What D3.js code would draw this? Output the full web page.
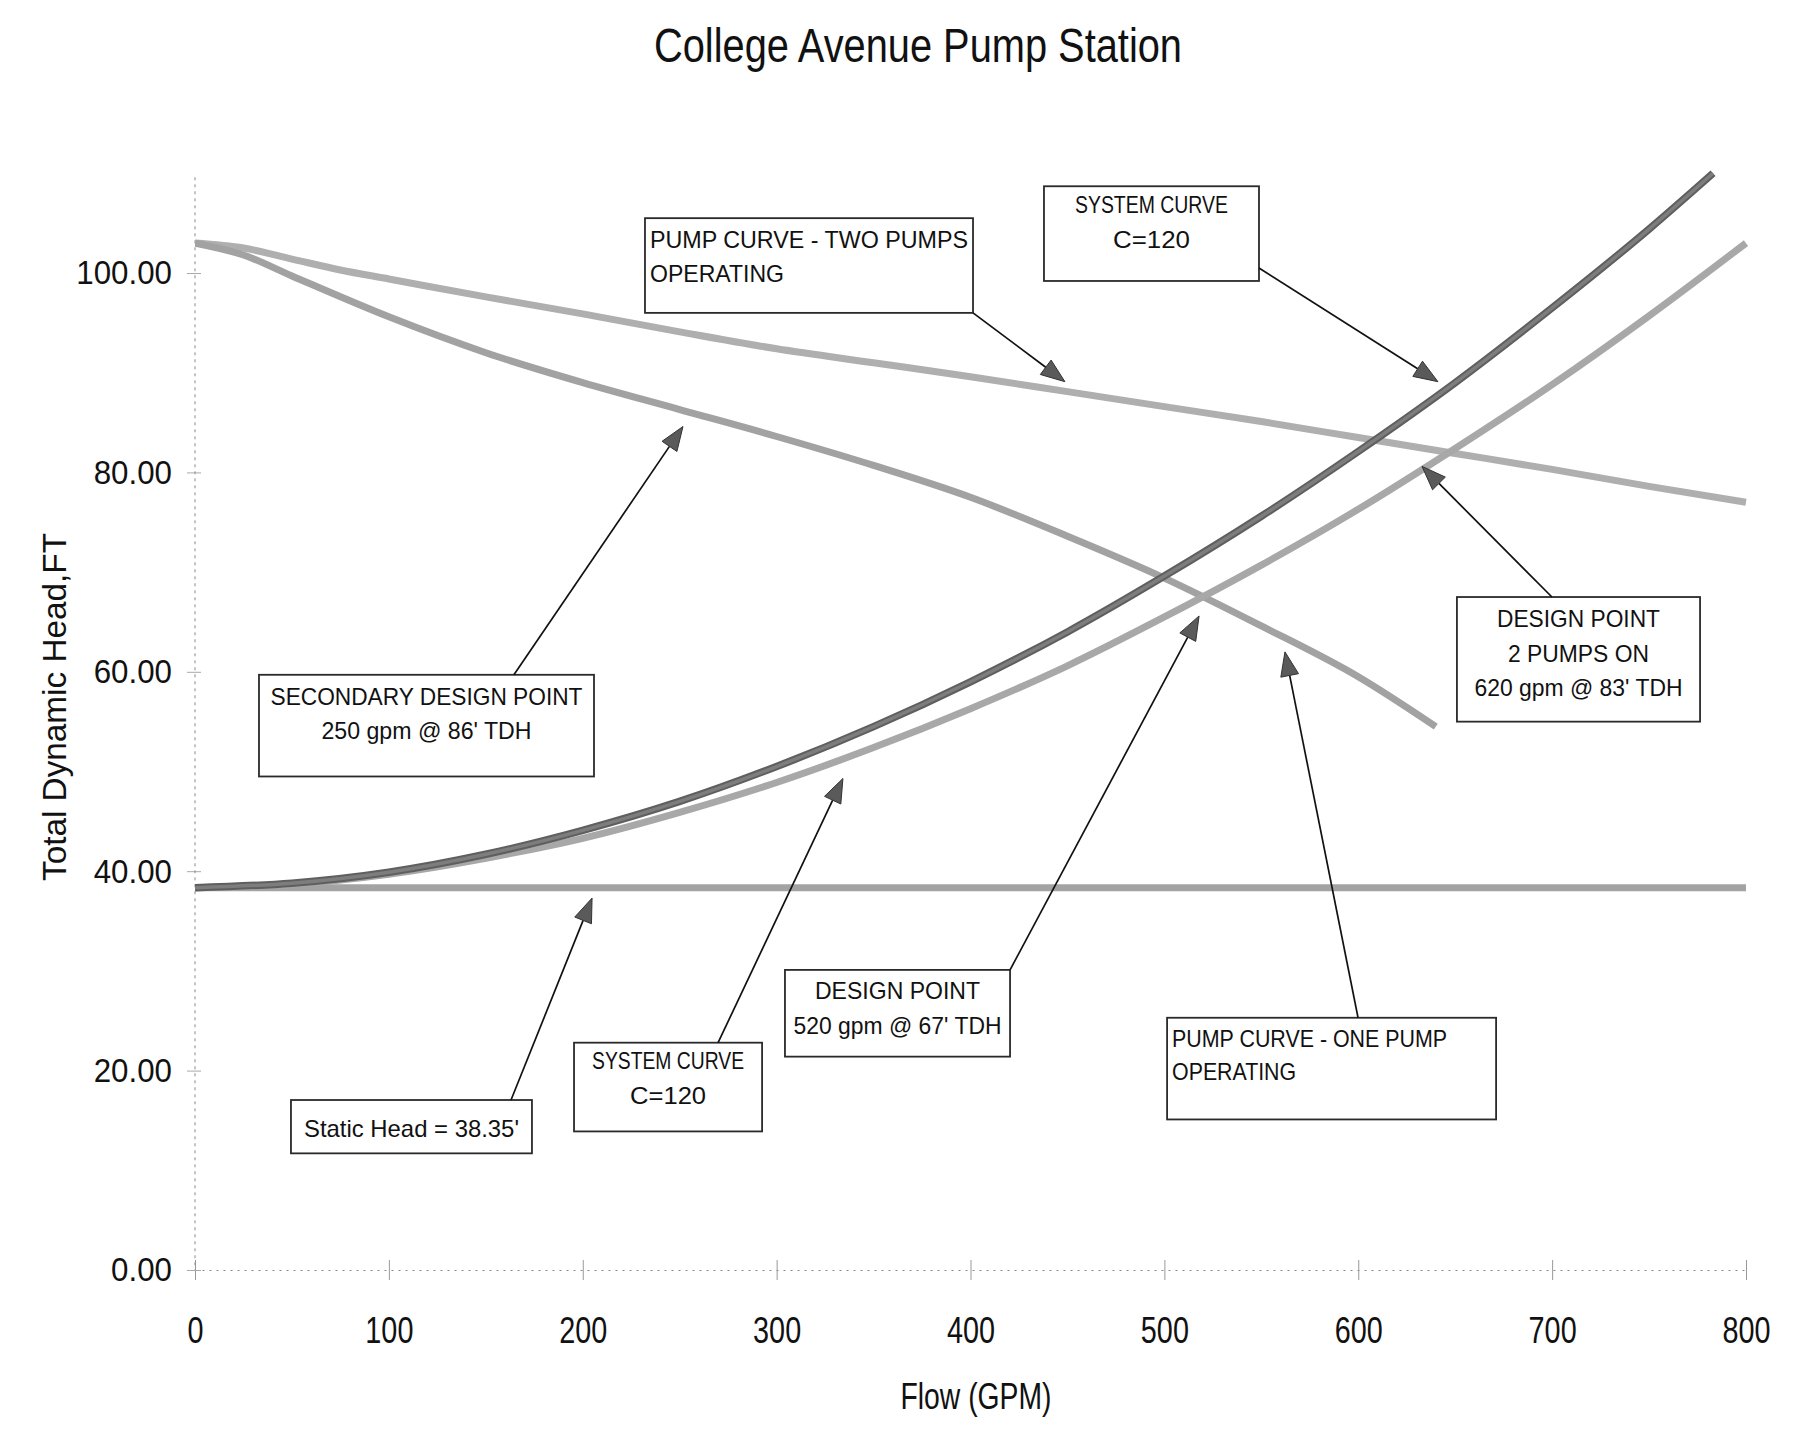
<!DOCTYPE html>
<html>
<head>
<meta charset="utf-8">
<script src="https://cdn.jsdelivr.net/npm/d3@7"></script>
<style>
  html, body { margin: 0; padding: 0; background: #fff; }
  svg { display: block; }
  text { font-family: "Liberation Sans", Arial, sans-serif; fill: #111; }
</style>
</head>
<body>
<svg id="chart" width="1799" height="1435"></svg>
<script>
// ---- Curve readings: flow (GPM) and total dynamic head (ft) ----
const twoPumpFlow = [0, 25, 50, 75, 100, 150, 200, 250, 300, 350, 400, 450, 500, 550, 600, 650, 700, 750, 800];
const twoPumpHead = [103, 102.5, 101.4, 100.3, 99.4, 97.6, 95.9, 94.1, 92.4, 91.0, 89.6, 88.1, 86.6, 85.1, 83.5, 81.9, 80.3, 78.6, 77.0];

const onePumpFlow = [0, 25, 50, 100, 150, 200, 250, 300, 350, 400, 450, 500, 550, 600, 640];
const onePumpHead = [103, 101.8, 99.7, 95.6, 92.0, 89.0, 86.3, 83.6, 80.7, 77.5, 73.6, 69.4, 64.6, 59.5, 54.5];

const systemUpperFlow = [0, 50, 100, 150, 200, 250, 300, 350, 400, 450, 500, 550, 600, 650, 700, 750, 783];
const systemUpperHead = [38.35, 38.8, 39.9, 41.7, 44.1, 47.0, 50.5, 54.5, 59.0, 64.0, 69.6, 75.6, 82.1, 89.0, 96.5, 104.4, 110.0];

const systemLowerFlow = [0, 50, 100, 150, 200, 250, 300, 350, 400, 450, 500, 550, 600, 650, 700, 750, 800];
const systemLowerHead = [38.35, 38.7, 39.7, 41.3, 43.3, 45.9, 48.9, 52.4, 56.3, 60.6, 65.5, 70.7, 76.3, 82.4, 88.8, 95.7, 103.0];

const staticFlow = [0, 800];
const staticHead = [38.35, 38.35];

const flowTicks = [0, 100, 200, 300, 400, 500, 600, 700, 800];
const headTicks = [0, 20, 40, 60, 80, 100];

// ---- Callout boxes (box corners and arrow ends given in flow/head units) ----
const callouts = [
  { lines: ["PUMP CURVE -  TWO PUMPS", "OPERATING"], widths: [318, 134], align: "start",
    box: [232.1, 401.3, 105.5, 96.0], base: [30, 64], from: [401.3, 96.0], tip: [448.7, 89.1] },
  { lines: ["SYSTEM CURVE", "C=120"], widths: [153, 77], align: "middle",
    box: [437.9, 548.8, 108.7, 99.2], base: [27, 62], from: [548.8, 100.5], tip: [641.1, 89.1] },
  { lines: ["DESIGN POINT", "2 PUMPS ON", "620 gpm @ 83' TDH"], widths: [163, 141, 208], align: "middle",
    box: [650.9, 776.3, 67.5, 55.0], base: [30, 65, 99], from: [699.9, 67.5], tip: [632.9, 80.6] },
  { lines: ["SECONDARY DESIGN POINT", "250 gpm @ 86' TDH"], widths: [312, 210], align: "middle",
    box: [33.0, 205.8, 59.7, 49.5], base: [30, 64], from: [164.5, 59.7], tip: [251.7, 84.6] },
  { lines: ["Static Head = 38.35'"], widths: [215], align: "middle",
    box: [49.5, 173.8, 17.05, 11.7], base: [37], from: [163.0, 17.05], tip: [204.8, 37.3] },
  { lines: ["SYSTEM CURVE", "C=120"], widths: [152, 76], align: "middle",
    box: [195.5, 292.5, 22.8, 13.9], base: [26, 61], from: [269.8, 22.8], tip: [334.2, 49.3] },
  { lines: ["DESIGN POINT", "520 gpm @ 67' TDH"], widths: [165, 208], align: "middle",
    box: [304.3, 420.4, 30.1, 21.4], base: [29, 64], from: [420.4, 30.1], tip: [517.9, 65.6] },
  { lines: ["PUMP CURVE -  ONE PUMP", "OPERATING"], widths: [275, 124], align: "start",
    box: [501.4, 671.1, 25.3, 15.1], base: [29, 62], from: [599.9, 25.3], tip: [562.2, 62.0] }
];

const svg = d3.select("#chart");

const x = d3.scaleLinear().domain([0, 800]).range([195, 1746]);
const y = d3.scaleLinear().domain([0, 110]).range([1270, 173.3]);

// Title and axis titles
svg.append("text")
  .attr("x", 918).attr("y", 62)
  .attr("text-anchor", "middle")
  .attr("font-size", 48)
  .attr("textLength", 528).attr("lengthAdjust", "spacingAndGlyphs")
  .text("College Avenue Pump Station");

svg.append("text")
  .attr("transform", "translate(66,707) rotate(-90)")
  .attr("text-anchor", "middle")
  .attr("font-size", 34)
  .attr("textLength", 348).attr("lengthAdjust", "spacingAndGlyphs")
  .text("Total Dynamic Head,FT");

svg.append("text")
  .attr("x", 976).attr("y", 1409)
  .attr("text-anchor", "middle")
  .attr("font-size", 36)
  .attr("textLength", 151).attr("lengthAdjust", "spacingAndGlyphs")
  .text("Flow (GPM)");

// Squeeze axis tick labels horizontally
function squeeze(sel, ratio) {
  sel.each(function () {
    const w = this.getComputedTextLength();
    d3.select(this).attr("textLength", w * ratio).attr("lengthAdjust", "spacingAndGlyphs");
  });
}

// Bottom axis
const xAxis = svg.append("g")
  .attr("transform", `translate(0,${y(0)})`)
  .call(d3.axisBottom(x).tickValues(flowTicks).tickFormat(d3.format("d"))
    .tickSizeInner(10).tickSizeOuter(0).tickPadding(37));
xAxis.select(".domain").attr("stroke", "#8a8a8a").attr("stroke-dasharray", "2,5");
xAxis.selectAll(".tick line").attr("y1", -10).attr("y2", 10).attr("stroke", "#999");
xAxis.selectAll(".tick text").attr("font-size", 36).attr("fill", "#111")
  .attr("font-family", '"Liberation Sans", Arial, sans-serif');
squeeze(xAxis.selectAll(".tick text"), 0.8);

// Left axis
const yAxis = svg.append("g")
  .attr("transform", `translate(${x(0)},0)`)
  .call(d3.axisLeft(y).tickValues(headTicks).tickFormat(d3.format(".2f"))
    .tickSizeInner(8).tickSizeOuter(0).tickPadding(15));
yAxis.select(".domain").remove();
yAxis.selectAll(".tick line").attr("x1", -8).attr("x2", 6).attr("stroke", "#aaa");
yAxis.selectAll(".tick text").attr("font-size", 34).attr("fill", "#111")
  .attr("font-family", '"Liberation Sans", Arial, sans-serif');
squeeze(yAxis.selectAll(".tick text"), 0.92);
svg.append("line")
  .attr("x1", x(0)).attr("x2", x(0))
  .attr("y1", y(110) + 4).attr("y2", y(0))
  .attr("stroke", "#8a8a8a").attr("stroke-dasharray", "3,4");

// Curves
svg.append("clipPath").attr("id", "plot-clip")
  .append("rect").attr("x", x(0)).attr("y", y(110) - 4)
  .attr("width", x(800) - x(0) + 6).attr("height", y(0) - y(110) + 4);

const line = d3.line().x(d => x(d[0])).y(d => y(d[1])).curve(d3.curveMonotoneX);
const zip = (a, b) => a.map((v, i) => [v, b[i]]);

const curves = svg.append("g").attr("clip-path", "url(#plot-clip)")
  .attr("fill", "none").attr("stroke-linecap", "butt").attr("stroke-linejoin", "round");

const series = [
  { pts: zip(staticFlow, staticHead), color: "#a3a3a3", width: 7 },
  { pts: zip(twoPumpFlow, twoPumpHead), color: "#afafaf", width: 7 },
  { pts: zip(onePumpFlow, onePumpHead), color: "#a2a2a2", width: 7 },
  { pts: zip(systemLowerFlow, systemLowerHead), color: "#a8a8a8", width: 7 },
  { pts: zip(systemUpperFlow, systemUpperHead), color: "#5f5f5f", width: 7.5 }
];
series.forEach(s => {
  curves.append("path").attr("d", line(s.pts))
    .attr("stroke", s.color).attr("stroke-width", s.width);
});
// lighter core on the darker system curve
curves.append("path").attr("d", line(zip(systemUpperFlow, systemUpperHead)))
  .attr("stroke", "#7d7d7d").attr("stroke-width", 3.5);

// Callouts: boxed text with arrows
const notes = svg.append("g");
callouts.forEach(c => {
  const x0 = x(c.box[0]), x1 = x(c.box[1]), y0 = y(c.box[2]), y1 = y(c.box[3]);
  notes.append("rect")
    .attr("x", x0).attr("y", y0).attr("width", x1 - x0).attr("height", y1 - y0)
    .attr("fill", "#fff").attr("stroke", "#2a2a2a").attr("stroke-width", 1.8);
  c.lines.forEach((t, i) => {
    notes.append("text")
      .attr("x", c.align === "start" ? x0 + 5 : (x0 + x1) / 2)
      .attr("y", y0 + c.base[i])
      .attr("text-anchor", c.align)
      .attr("font-size", 24)
      .attr("textLength", c.widths[i]).attr("lengthAdjust", "spacingAndGlyphs")
      .text(t);
  });
  const fx = x(c.from[0]), fy = y(c.from[1]), tx = x(c.tip[0]), ty = y(c.tip[1]);
  const dx = tx - fx, dy = ty - fy, len = Math.hypot(dx, dy);
  const ux = dx / len, uy = dy / len, L = 24, W = 9;
  const bx = tx - ux * L, by = ty - uy * L;
  notes.append("line")
    .attr("x1", fx).attr("y1", fy).attr("x2", bx).attr("y2", by)
    .attr("stroke", "#111").attr("stroke-width", 1.7);
  notes.append("path")
    .attr("d", `M${tx},${ty}L${bx - uy * W},${by + ux * W}L${bx + uy * W},${by - ux * W}Z`)
    .attr("fill", "#5a5a5a").attr("stroke", "#333").attr("stroke-width", 1);
});
</script>
</body>
</html>
